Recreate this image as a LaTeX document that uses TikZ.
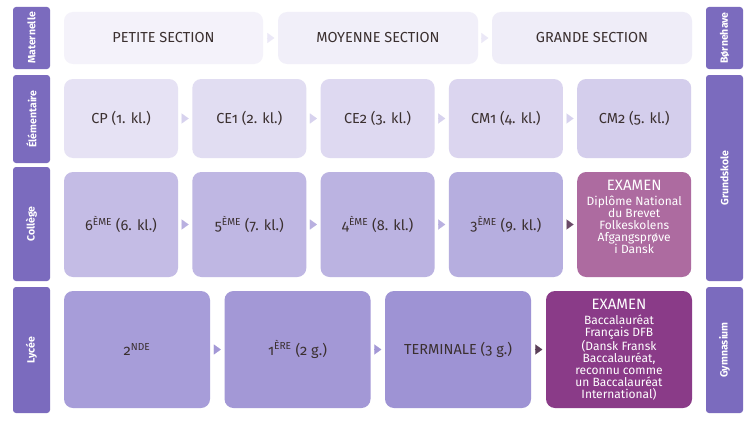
\documentclass[tikz,border=0pt]{standalone}
\usepackage{fontspec}
\setmainfont{Fira Sans}[Numbers=OldStyle]
\usetikzlibrary{arrows.meta}
\definecolor{stagecol}{HTML}{7B6BBE}
\definecolor{txtcol}{HTML}{3B3030}
\definecolor{matcol}{HTML}{F1EFF9}
\definecolor{elecol}{HTML}{DED9F1}
\definecolor{colcol}{HTML}{BDB5E2}
\definecolor{lyccol}{HTML}{A79DD9}
\definecolor{examone}{HTML}{AD6BA0}
\definecolor{examtwo}{HTML}{8A3B88}
\definecolor{tipdark}{HTML}{6A4A68}
\tikzset{
  grade/.style={rounded corners=9pt, inner sep=2pt, text=txtcol, align=center,
    font=\fontsize{14.5}{16}\selectfont},
  stage/.style={fill=stagecol, rounded corners=3pt, text=white, rotate=90,
    font=\bfseries\fontsize{10.5}{12}\selectfont},
  exam/.style={grade, text=white, font=\fontsize{12}{12}\selectfont},
  tip/.style={-{Triangle[length=7pt,width=10pt]}, shorten <=3.5pt, shorten >=3.5pt,
    line width=0.1pt}
}
\begin{document}
\begin{tikzpicture}[x=1pt,y=-1pt]
  \useasboundingbox[fill=white] (0,0) rectangle (754,420);
  % stage labels
  \node[stage, minimum width=62, minimum height=37] (matl) at (31.5,38) {Maternelle};
  \node[stage, minimum width=88, minimum height=37] (elel) at (31.5,119) {Élémentaire};
  \node[stage, minimum width=114, minimum height=37] (coll) at (31.5,224) {Collège};
  \node[stage, minimum width=126, minimum height=37] (lycl) at (31.5,350) {Lycée};
  \node[stage, minimum width=62, minimum height=37] (matr) at (724.5,38) {Børnehave};
  \node[stage, minimum width=206, minimum height=37] (grur) at (724.5,178) {Grundskole};
  \node[stage, minimum width=126, minimum height=37] (gymr) at (724.5,350) {Gymnasium};
  % Maternelle
  \node[grade, fill=matcol!80!white, minimum width=199, minimum height=52] (ps) at (163.5,38) {PETITE SECTION};
  \node[grade, fill=matcol, minimum width=200, minimum height=52] (ms) at (378,38) {MOYENNE SECTION};
  \node[grade, fill=matcol!90!elecol, minimum width=200, minimum height=52] (gs) at (592,38) {GRANDE SECTION};
  % Elementaire
  \node[grade, fill=elecol!75!white, minimum width=114, minimum height=79] (cp) at (121,118.5) {CP (1. kl.)};
  \node[grade, fill=elecol!90!white, minimum width=114, minimum height=79] (ceone) at (249.3,118.5) {CE1 (2. kl.)};
  \node[grade, fill=elecol, minimum width=114, minimum height=79] (cetwo) at (377.6,118.5) {CE2 (3. kl.)};
  \node[grade, fill=elecol!90!colcol, minimum width=114, minimum height=79] (cmone) at (505.9,118.5) {CM1 (4. kl.)};
  \node[grade, fill=elecol!70!colcol, minimum width=114, minimum height=79] (cmtwo) at (634.2,118.5) {CM2 (5. kl.)};
  % College
  \node[grade, fill=colcol!80!elecol, minimum width=114, minimum height=105] (six) at (121,224.5) {6\textsuperscript{ÈME} (6. kl.)};
  \node[grade, fill=colcol!95!elecol, minimum width=114, minimum height=105] (five) at (249.3,224.5) {5\textsuperscript{ÈME} (7. kl.)};
  \node[grade, fill=colcol!90!lyccol, minimum width=114, minimum height=105] (four) at (377.6,224.5) {4\textsuperscript{ÈME} (8. kl.)};
  \node[grade, fill=colcol!70!lyccol, minimum width=114, minimum height=105] (three) at (505.9,224.5) {3\textsuperscript{ÈME} (9. kl.)};
  \node[exam, fill=examone, minimum width=114, minimum height=105, text depth=15pt] (dnb) at (634.2,224.5)
    {{\fontsize{15}{16}\selectfont EXAMEN}\\[3pt]Diplôme National\\du Brevet\\Folkeskolens\\Afgangsprøve\\i Dansk};
  % Lycee
  \node[grade, fill=lyccol, minimum width=146, minimum height=117] (snd) at (137,349.5) {2\textsuperscript{NDE}};
  \node[grade, fill=lyccol!90!stagecol, minimum width=146, minimum height=117] (fst) at (297.5,349.5) {1\textsuperscript{ÈRE} (2 g.)};
  \node[grade, fill=lyccol!80!stagecol, minimum width=146, minimum height=117] (term) at (458,349.5) {TERMINALE (3 g.)};
  \node[exam, fill=examtwo, minimum width=146, minimum height=117] (bac) at (619,349.5)
    {{\fontsize{15}{16}\selectfont EXAMEN}\\[3pt]Baccalauréat\\Français DFB\\(Dansk Fransk\\Baccalauréat,\\reconnu comme\\un Baccalauréat\\International)};
  % arrows
  \draw[tip, color=matcol!70!elecol] (ps) -- (ms);
  \draw[tip, color=matcol!70!elecol] (ms) -- (gs);
  \draw[tip, color=elecol!80!colcol] (cp) -- (ceone);
  \draw[tip, color=elecol!80!colcol] (ceone) -- (cetwo);
  \draw[tip, color=elecol!80!colcol] (cetwo) -- (cmone);
  \draw[tip, color=elecol!80!colcol] (cmone) -- (cmtwo);
  \draw[tip, color=colcol!80!lyccol] (six) -- (five);
  \draw[tip, color=colcol!80!lyccol] (five) -- (four);
  \draw[tip, color=colcol!80!lyccol] (four) -- (three);
  \draw[tip, color=tipdark] (three) -- (dnb);
  \draw[tip, color=lyccol!90!stagecol] (snd) -- (fst);
  \draw[tip, color=lyccol!90!stagecol] (fst) -- (term);
  \draw[tip, color=tipdark!85!black] (term) -- (bac);
\end{tikzpicture}
\end{document}
